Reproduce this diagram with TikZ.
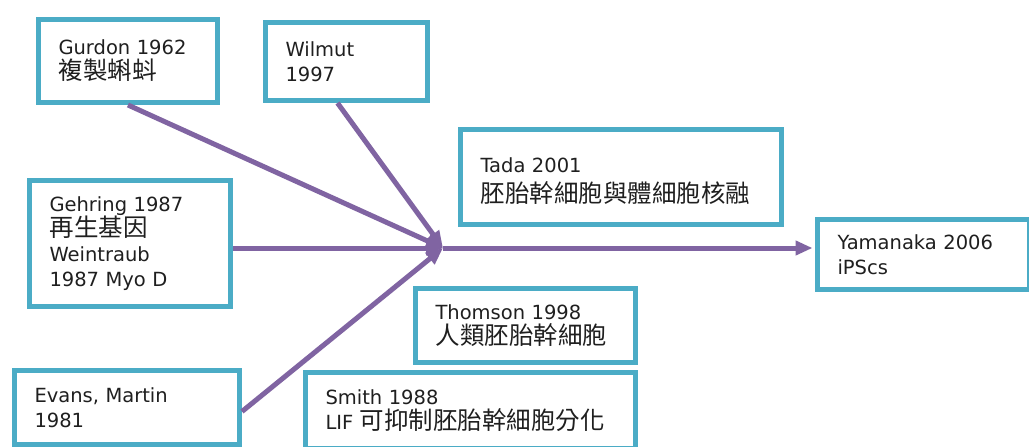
\documentclass[tikz,border=0pt]{standalone}
\usepackage{fontspec}
\setmainfont{DejaVu Sans}
\newfontfamily\cjk{Noto Sans CJK TC}
\usetikzlibrary{arrows.meta}
\definecolor{boxteal}{HTML}{4BACC6}
\definecolor{linkpurple}{HTML}{8064A2}
\newcommand{\zh}[1]{{\cjk\fontsize{24.5}{25}\selectfont #1}}
\tikzset{%
	finding/.style={
		draw=boxteal,
		line width=5pt,
		fill=white,
		anchor=north west,
		inner xsep=20pt,
		inner ysep=4pt,
		align=left,
		text=black!88,
		font=\fontsize{19.5}{25}\selectfont
	},
}

\begin{document}
\begin{tikzpicture}[
			x=1pt, y=-1pt,
			link/.style={draw=linkpurple, line width=5pt, -{Triangle[length=17pt,width=14pt]}}
			]
			\fill[white] (0,0) rectangle (1029,447);
			\useasboundingbox (0,0) rectangle (1029,447);
			
			% Findings
			\node[finding, text width=139pt, minimum height=83pt] (gurdon) at (36,17) {Gurdon 1962\\\zh{複製蝌蚪}};
			\node[finding, text width=122pt, minimum height=78pt] (wilmut) at (263,20) {Wilmut\\1997};
			\node[finding, text width=281pt, minimum height=95pt] (tada) at (458,127) {\rule{0pt}{24pt}Tada 2001\\[5pt]\zh{胚胎幹細胞與體細胞核融}};
			\node[finding, text width=161pt, minimum height=126pt] (gehring) at (27,178) {Gehring 1987\\\zh{再生基因}\\Weintraub\\1987 Myo D};
			\node[finding, text width=185pt, minimum height=74pt] (evans) at (12,368) {Evans, Martin\\1981};
			\node[finding, text width=180pt, minimum height=74pt] (thomson) at (413,286) {Thomson 1998\\\zh{人類胚胎幹細胞}};
			\node[finding, text width=290pt, minimum height=76pt] (smith) at (303,370) {Smith 1988\\LIF \zh{可抑制胚胎幹細胞分化}};
			\node[finding, text width=172pt, minimum height=70pt] (yamanaka) at (815,217) {Yamanaka 2006\\iPScs};
			
			% Connectors
			\coordinate (hub) at (443,248);
			\draw[link] (gurdon.south) -- (hub);
			\draw[link] ([xshift=-9pt]wilmut.south) -- (hub);
			\draw[link] (gehring.east |- hub) -- (hub);
			\draw[link] ([yshift=-4pt]evans.east) -- (hub);
			\draw[link, shorten >=2.5pt] (hub) -- (hub -| yamanaka.west);
			
		\end{tikzpicture}
\end{document}
